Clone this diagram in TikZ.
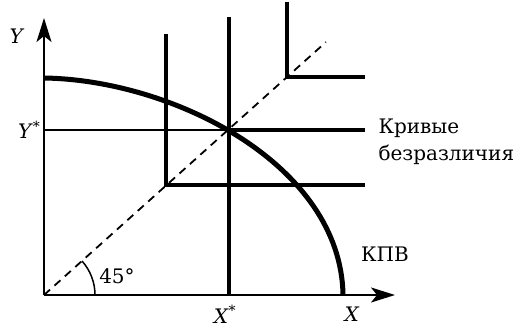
\documentclass[tikz,border=0pt]{standalone}
\usepackage{fontspec}
\setmainfont{DejaVu Serif}
\usetikzlibrary{calc,arrows.meta}

\newcommand{\starred}[1]{\textit{#1}\textsuperscript{*}}

\begin{document}
\begin{tikzpicture}[x=10pt,y=10pt,font=\fontsize{20}{27}\selectfont,
  axis/.style={line width=1.9pt,-{Stealth[length=24pt,width=15pt,inset=6pt]}},
  icurve/.style={line width=4.6pt},
  guide/.style={line width=1.5pt}]
\useasboundingbox (-4.4,-3.5) rectangle (48.2,29.5);
\def\xr{32.1}
\coordinate (O) at (0,0);
\coordinate (ytip) at (0,27.7);
\coordinate (xtip) at (35.1,0);
\coordinate (R) at (\xr,0);
\coordinate (A) at (12.2,11.0);
\coordinate (B) at (18.5,16.5);
\coordinate (C) at (24.3,21.8);
\coordinate (Y0) at (0,16.5);
\coordinate (X0) at (18.5,0);
\coordinate (D) at ($(O)!1.16!(C)$);
\coordinate (ppf0) at (0,21.7);
\coordinate (ppf1) at (29.9,0);
% axes
\draw[axis] (O) -- (ytip);
\draw[axis] (O) -- (xtip);
\node (ylab) at (-2.7,25.9) {\textit{Y}};
\node (xlab) at (30.8,-1.95) {\textit{X}};
% 45 degree line
\draw[line width=1.8pt,dash pattern=on 8pt off 6pt] (O) -- (D);
\draw[guide] (5.1,0) arc[start angle=0,end angle=41.7,radius=5.1];
\node (ang) at (7.3,1.9) {45°};
% indifference curves
\draw[icurve] ($(A)+(0,15.1)$) -- (A) -- (R |- A);
\draw[icurve] (18.5,27.8) -- (X0);
\draw[icurve] (B) -- (R |- B);
\draw[icurve] (24.3,29.3) -- (C) -- (R |- C);
\draw[guide] (Y0) -- (B);
\node[left] (ystar) at (Y0) {\starred{Y}};
\node (xstar) at (18.1,-1.95) {\starred{X}};
% production possibility frontier
\draw[line width=5pt] (ppf0) .. controls (13,21.5) and (29.7,13) .. (ppf1);
\node (kpv) at (34.1,4.1) {КПВ};
\node[anchor=west,align=left] (ind) at (33.1,15.3) {Кривые\\безразличия};
\end{tikzpicture}
\end{document}
